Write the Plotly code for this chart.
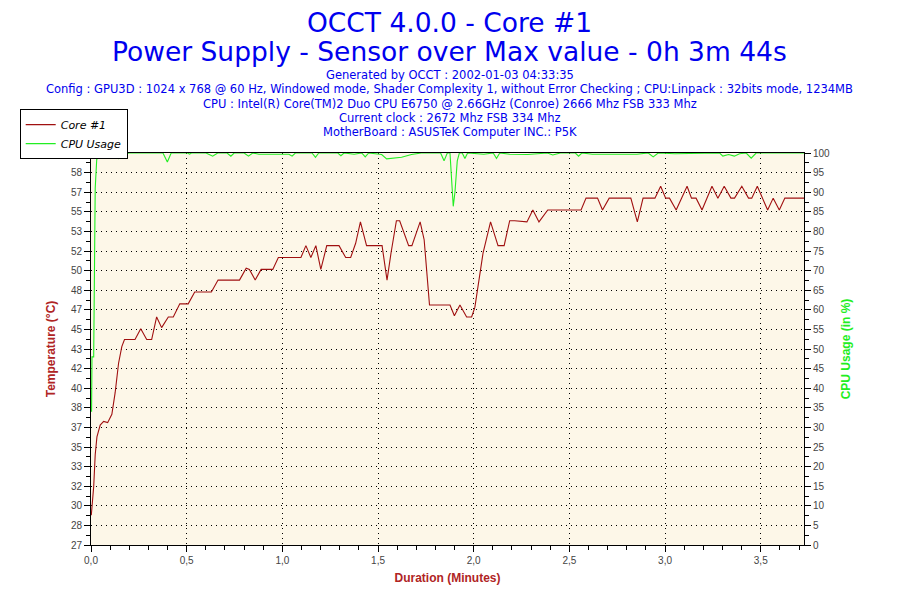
import numpy as np
import plotly.graph_objects as go

# Core #1 temperature
minutes_temp = [
    0.0015, 0.009, 0.014, 0.022, 0.031, 0.048, 0.066, 0.087, 0.109, 0.126,
    0.144, 0.161, 0.175, 0.230, 0.260, 0.291, 0.317, 0.343, 0.369, 0.404,
    0.430, 0.464, 0.508, 0.542, 0.629, 0.664, 0.776, 0.811, 0.828, 0.858,
    0.889, 0.950, 0.979, 1.097, 1.123, 1.149, 1.175, 1.201, 1.232, 1.296,
    1.331, 1.357, 1.383, 1.408, 1.440, 1.521, 1.547, 1.568, 1.596, 1.613,
    1.660, 1.677, 1.720, 1.741, 1.769, 1.781, 1.876, 1.899, 1.928, 1.963,
    1.989, 2.006, 2.049, 2.088, 2.127, 2.159, 2.188, 2.214, 2.278, 2.309,
    2.341, 2.387, 2.561, 2.587, 2.647, 2.673, 2.708, 2.821, 2.855, 2.885,
    2.947, 2.977, 3.003, 3.023, 3.058, 3.115, 3.138, 3.162, 3.193, 3.245,
    3.276, 3.309, 3.344, 3.363, 3.401, 3.436, 3.453, 3.482, 3.536, 3.565,
    3.597, 3.626, 3.726,
]
core1_temp = [
    29.5, 30.8, 31.9, 34.6, 36.1, 37.1, 37.4, 37.3, 38.0, 39.8,
    42.3, 43.7, 44.3, 44.3, 45.2, 44.3, 44.3, 46.2, 45.3, 46.2,
    46.2, 47.3, 47.3, 48.3, 48.3, 49.3, 49.3, 50.3, 50.2, 49.3,
    50.2, 50.2, 51.2, 51.2, 52.2, 51.2, 52.2, 50.2, 52.2, 52.2,
    51.2, 51.2, 52.4, 54.2, 52.2, 52.2, 49.3, 51.6, 54.3, 54.3,
    52.2, 52.2, 54.2, 52.7, 47.2, 47.2, 47.2, 46.3, 47.2, 46.2,
    46.2, 47.0, 51.6, 54.2, 52.2, 52.2, 54.3, 54.3, 54.2, 55.2,
    54.2, 55.2, 55.2, 56.2, 56.2, 55.2, 56.2, 56.2, 54.2, 56.2,
    56.2, 57.2, 56.2, 56.2, 55.2, 57.2, 56.2, 56.2, 55.2, 57.2,
    56.2, 57.2, 56.2, 56.2, 57.2, 56.2, 56.2, 57.2, 55.2, 56.2,
    55.2, 56.2, 56.2,
]

# CPU usage
minutes_cpu = [
    0.003, 0.005, 0.014, 0.016, 0.018, 0.022, 0.030, 0.047, 0.081, 0.127,
    0.142, 0.157, 0.168, 0.179, 0.200, 0.376, 0.399, 0.419, 0.505, 0.515,
    0.525, 0.601, 0.636, 0.662, 0.711, 0.731, 0.748, 0.800, 0.823, 0.845,
    0.878, 1.034, 1.051, 1.068, 1.155, 1.173, 1.190, 1.290, 1.306, 1.322,
    1.375, 1.415, 1.433, 1.451, 1.519, 1.545, 1.623, 1.675, 1.726, 1.827,
    1.845, 1.862, 1.876, 1.888, 1.893, 1.902, 1.914, 1.925, 1.940, 1.954,
    1.968, 2.053, 2.102, 2.119, 2.136, 2.188, 2.235, 2.282, 2.385, 2.413,
    2.453, 2.531, 2.548, 2.565, 2.620, 2.791, 2.853, 2.912, 2.938, 2.964,
    3.051, 3.285, 3.302, 3.332, 3.362, 3.389, 3.424, 3.450, 3.476, 3.727,
]
cpu_usage = [
    34.0, 48.0, 48.0, 62.0, 78.0, 91.0, 98.4, 99.2, 100.0, 100.0,
    98.6, 99.6, 99.2, 99.8, 100.0, 100.0, 97.7, 100.0, 100.0, 99.7,
    100.0, 100.0, 99.2, 100.0, 100.0, 99.2, 100.0, 100.0, 99.2, 100.0,
    99.7, 99.7, 99.2, 100.0, 100.0, 98.9, 100.0, 100.0, 99.3, 100.0,
    99.7, 100.0, 99.0, 100.0, 99.6, 98.5, 98.9, 99.6, 100.0, 100.0,
    98.0, 100.0, 100.0, 88.0, 86.4, 90.0, 98.0, 100.0, 100.0, 98.6,
    100.0, 99.7, 100.0, 98.6, 100.0, 99.7, 99.6, 99.6, 100.0, 99.5,
    100.0, 100.0, 99.2, 100.0, 99.7, 99.8, 99.7, 100.0, 99.0, 100.0,
    99.8, 100.0, 99.2, 99.6, 99.2, 99.8, 100.0, 98.7, 100.0, 100.0,
]

temp_tick_labels = ["27", "28", "30", "32", "33", "35", "37", "38", "40", "42", "43",
                    "45", "47", "48", "50", "52", "53", "55", "57", "58", "60"]
cpu_tick_values = list(range(0, 101, 5))

title_lines = ["OCCT 4.0.0 - Core #1",
               "Power Supply - Sensor over Max value - 0h 3m 44s"]
info_lines = [
    "Generated by OCCT : 2002-01-03 04:33:35",
    "Config : GPU3D : 1024 x 768 @ 60 Hz, Windowed mode, Shader Complexity 1, without Error Checking ; CPU:Linpack : 32bits mode, 1234MB",
    "CPU : Intel(R) Core(TM)2 Duo CPU E6750 @ 2.66GHz (Conroe) 2666 Mhz FSB 333 Mhz",
    "Current clock : 2672 Mhz FSB 334 Mhz",
    "MotherBoard : ASUSTeK Computer INC.: P5K",
]

T_MIN, T_MAX = 27, 60
X_MAX = 3.726
BLUE = "#0000ee"
RED = "#a01010"
GREEN = "#22ee22"
BROWN = "#b02424"
TICK_FONT = dict(family="Liberation Sans, Arial", size=10, color="#444444")

fig = go.Figure()
fig.add_trace(go.Scatter(
    x=minutes_temp, y=core1_temp, name="Core #1", mode="lines",
    line=dict(color=RED, width=1.1), yaxis="y",
))
fig.add_trace(go.Scatter(
    x=minutes_cpu, y=cpu_usage, name="CPU Usage", mode="lines",
    line=dict(color=GREEN, width=1.1), yaxis="y2",
))

temp_ticks = np.linspace(T_MIN, T_MAX, len(temp_tick_labels))
grid = dict(showgrid=True, gridcolor="black", gridwidth=1, griddash="1px,4px")

# the page body adds an offset, so margins are trimmed on the left/top
fig.update_layout(
    width=900, height=600,
    paper_bgcolor="white", plot_bgcolor="#fdf7e8",
    margin=dict(l=79, r=104, t=145, b=63),
    separators=", ",
    showlegend=True,
    legend=dict(
        x=-0.1, y=1.112, xanchor="left", yanchor="top",
        bgcolor="white", bordercolor="black", borderwidth=1,
        font=dict(family="DejaVu Sans, Verdana", size=11, color="black", style="italic"),
        tracegroupgap=0, itemwidth=30,
    ),
    xaxis=dict(
        range=[0, X_MAX], tick0=0, dtick=0.5, tickformat=".1f",
        ticks="outside", ticklen=6, tickcolor="black",
        minor=dict(dtick=0.1, ticks="outside", ticklen=4, tickcolor="black", showgrid=False),
        showline=True, linecolor="black", linewidth=1, mirror=True,
        zeroline=False, tickfont=TICK_FONT,
        title=dict(text="<b>Duration (Minutes)</b>", standoff=8,
                   font=dict(family="Liberation Sans, Arial", size=12, color=BROWN)),
        **grid,
    ),
    yaxis=dict(
        range=[T_MIN, T_MAX], tickmode="array", tickvals=temp_ticks, ticktext=temp_tick_labels,
        ticks="outside", ticklen=6, tickcolor="black",
        minor=dict(tick0=T_MIN, dtick=(T_MAX - T_MIN) / 40, ticks="outside", ticklen=4,
                   tickcolor="black", showgrid=False),
        showline=True, linecolor="black", linewidth=1, mirror=True,
        zeroline=False, tickfont=TICK_FONT,
        title=dict(text="<b>Temperature (°C)</b>", standoff=12,
                   font=dict(family="Liberation Sans, Arial", size=12, color=BROWN)),
        **grid,
    ),
    yaxis2=dict(
        range=[0, 100], overlaying="y", side="right",
        tickmode="array", tickvals=cpu_tick_values,
        ticks="outside", ticklen=6, tickcolor="black",
        minor=dict(tick0=0, dtick=2.5, ticks="outside", ticklen=4, tickcolor="black"),
        showline=True, linecolor="black", linewidth=1,
        showgrid=False, zeroline=False, tickfont=TICK_FONT,
        title=dict(text="<b>CPU Usage (in %)</b>", standoff=12,
                   font=dict(family="Liberation Sans, Arial", size=12, color=GREEN)),
    ),
)

# header text, placed above the plot area in paper units
plot_w, plot_h = 717, 392
for i, line in enumerate(title_lines):
    fig.add_annotation(
        text=line, xref="paper", yref="paper", x=(450 - 89) / plot_w,
        y=(545 - (23 + 29 * i)) / plot_h, xanchor="center", yanchor="middle",
        showarrow=False, font=dict(family="DejaVu Sans, Verdana", size=26.5, color=BLUE),
    )
for i, line in enumerate(info_lines):
    fig.add_annotation(
        text=line, xref="paper", yref="paper", x=(450 - 89) / plot_w,
        y=(545 - (75 + 14.3 * i)) / plot_h, xanchor="center", yanchor="middle",
        showarrow=False, font=dict(family="DejaVu Sans, Verdana", size=11.5, color=BLUE),
    )

fig.write_html("out.html")
